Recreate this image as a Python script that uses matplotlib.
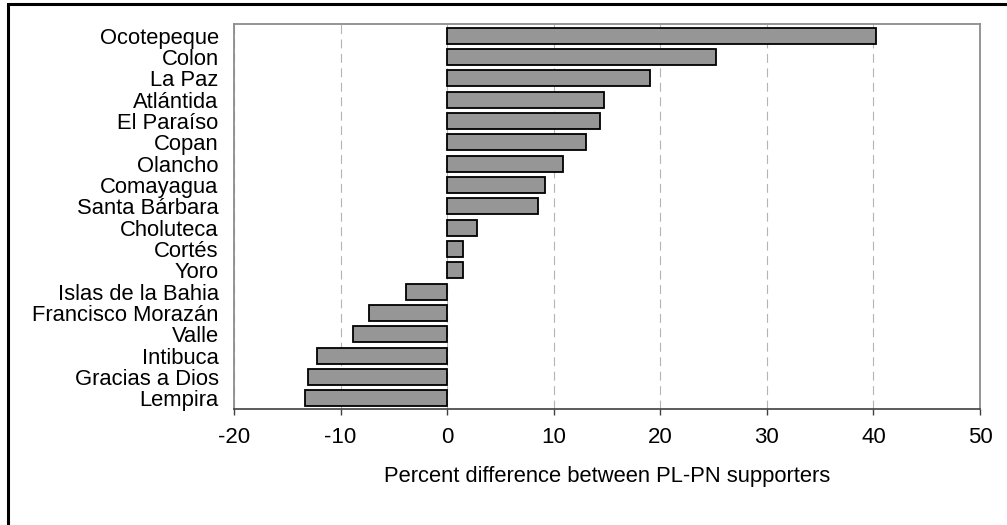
import matplotlib
matplotlib.use("Agg")
import matplotlib.pyplot as plt
from matplotlib.patches import Rectangle

# departments, top to bottom
departments = [
    "Ocotepeque", "Colon", "La Paz", "Atlántida", "El Paraíso", "Copan",
    "Olancho", "Comayagua", "Santa Bárbara", "Choluteca", "Cortés", "Yoro",
    "Islas de la Bahia", "Francisco Morazán", "Valle", "Intibuca",
    "Gracias a Dios", "Lempira",
]
pct_diff = [
    40.2, 25.2, 19.0, 14.7, 14.3, 13.0,
    10.9, 9.2, 8.5, 2.8, 1.5, 1.5,
    -3.9, -7.3, -8.8, -12.2,
    -13.1, -13.3,
]
xticks = [-20, -10, 0, 10, 20, 30, 40, 50]

plt.rcParams["font.family"] = ["Liberation Sans", "DejaVu Sans"]
plt.rcParams["axes.unicode_minus"] = False

fig = plt.figure(figsize=(10.07, 5.25), dpi=100)
ax = fig.add_axes([234 / 1007, 1 - 409 / 525, 746 / 1007, 385 / 525])

# outer frame (left and top edges visible, rest runs off the image)
fig.patches.append(Rectangle((8 / 1007, -0.1), 1.2, 1.1 - 4 / 525,
                             transform=fig.transFigure, fill=False,
                             edgecolor="black", linewidth=2.2, zorder=0))

ypos = list(range(len(departments)))
ax.barh(ypos, pct_diff, height=0.74, color="#969696",
        edgecolor="black", linewidth=1.3, zorder=3)

ax.set_xlim(-20, 50)
ax.set_ylim(len(departments) - 0.5, -0.55)
ax.set_xticks(xticks)
ax.set_yticks(ypos)
ax.set_yticklabels(departments, fontsize=15.8)
ax.tick_params(axis="y", length=0, pad=11)
ax.tick_params(axis="x", direction="out", length=4, width=1,
               color="#404040", labelsize=16, pad=9)

ax.grid(axis="x", color="#b4b4b4", linestyle=(0, (8, 5)), linewidth=0.8,
        zorder=0)
for side in ("left", "top", "right"):
    ax.spines[side].set_color("#8c8c8c")
    ax.spines[side].set_linewidth(1.3)
ax.spines["bottom"].set_color("#404040")
ax.spines["bottom"].set_linewidth(1.2)

ax.set_xlabel("Percent difference between PL-PN supporters",
              fontsize=15.8, labelpad=13)

fig.savefig("out.png", dpi=100)
